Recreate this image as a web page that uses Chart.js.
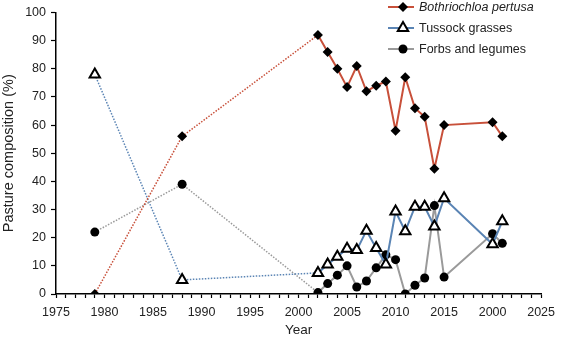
<!DOCTYPE html>
<html>
<head>
<meta charset="utf-8">
<script src="https://cdn.jsdelivr.net/npm/chart.js@4.4.1/dist/chart.umd.min.js"></script>
<style>
  body { margin: 0; background: #fff; }
  #wrap { width: 562px; height: 340px; }
</style>
</head>
<body>
<div id="wrap"><canvas id="grafico"></canvas></div>
<script>
// dados
var anos = [1979, 1988, 2002, 2003, 2004, 2005, 2006, 2007, 2008, 2009, 2010, 2011, 2012, 2013, 2014, 2015, 2020, 2021]
var pertusa = [0, 56, 92, 86, 80, 73.5, 81, 72, 74, 75.5, 58, 77, 66, 63, 44.5, 60, 61, 56]
var tussock = [78, 5, 7.5, 10.5, 13.2, 16.1, 15.6, 22.5, 16.3, 10.5, 29.3, 22.3, 31, 31, 24, 34, 17.7, 25.8]
var forbs = [22, 39, 0.5, 3.7, 6.7, 10, 2.5, 4.6, 9.3, 13.9, 12.2, 0, 3.1, 5.7, 31.4, 6, 21.4, 18]
var nomes = ['Bothriochloa pertusa', 'Tussock grasses', 'Forbs and legumes']
var rotulosAno = ['1975', '1980', '1985', '1990', '1995', '2000', '2005', '2010', '2015', '2000', '2025']

var fonte = '"Liberation Sans", Arial, Helvetica, sans-serif'

function pontos(valores) {
    return anos.map(function (x, i) { return { x: x, y: valores[i] } })
}

function trecho(cor) {
    return {
        borderDash: function (ctx) { return ctx.p1.parsed.x <= 2002 ? [1.5, 1.5] : undefined },
        borderWidth: function (ctx) { return ctx.p1.parsed.x <= 2002 ? 1.5 : 2 },
        borderColor: cor
    }
}

// legenda desenhada à mão (linha + marcador)
var legendaPlugin = {
    id: 'legendaManual',
    afterDraw: function (chart) {
        var c = chart.ctx
        var linhas = [7, 28, 49]
        chart.data.datasets.forEach(function (ds, i) {
            var y = linhas[i]
            c.save()
            c.strokeStyle = ds.borderColor
            c.lineWidth = 2
            c.beginPath()
            c.moveTo(388, y)
            c.lineTo(414, y)
            c.stroke()
            desenharMarcador(c, ds.pointStyle, 403, y)
            c.fillStyle = '#222'
            c.font = (i === 0 ? 'italic ' : '') + '12.5px ' + fonte
            c.textBaseline = 'middle'
            c.fillText(nomes[i], 419, y + 0.5)
            c.restore()
        })
    }
}

function desenharMarcador(c, estilo, x, y) {
    c.beginPath()
    if (estilo === 'rectRot') {
        var r = 5
        c.moveTo(x, y - r); c.lineTo(x + r, y); c.lineTo(x, y + r); c.lineTo(x - r, y); c.closePath()
        c.fillStyle = '#000'; c.fill()
    } else if (estilo === 'triangle') {
        var r = 6
        c.moveTo(x, y - r); c.lineTo(x + r * 0.87, y + r * 0.5); c.lineTo(x - r * 0.87, y + r * 0.5); c.closePath()
        c.fillStyle = '#fff'; c.fill()
        c.lineWidth = 2; c.strokeStyle = '#000'; c.stroke()
    } else {
        c.arc(x, y, 4.5, 0, Math.PI * 2)
        c.fillStyle = '#000'; c.fill()
    }
}

var ctx = document.getElementById('grafico')

var grafico = new Chart(ctx, {
    type: 'line',
    data: {
        datasets: [{
            label: nomes[0],
            data: pontos(pertusa),
            borderColor: '#c8503a',
            borderWidth: 2,
            pointStyle: 'rectRot',
            pointRadius: 5,
            pointBackgroundColor: '#000',
            pointBorderColor: '#000',
            pointBorderWidth: 0,
            segment: trecho('#c8503a')
        }, {
            label: nomes[1],
            data: pontos(tussock),
            borderColor: '#5a84b4',
            borderWidth: 2,
            pointStyle: 'triangle',
            pointRadius: 6,
            pointBackgroundColor: '#fff',
            pointBorderColor: '#000',
            pointBorderWidth: 2,
            segment: trecho('#5a84b4')
        }, {
            label: nomes[2],
            data: pontos(forbs),
            borderColor: '#9a9a9a',
            borderWidth: 2,
            pointStyle: 'circle',
            pointRadius: 4.5,
            pointBackgroundColor: '#000',
            pointBorderColor: '#000',
            pointBorderWidth: 0,
            segment: trecho('#9a9a9a')
        }]
    },
    options: {
        responsive: true,
        maintainAspectRatio: false,
        animation: false,
        layout: { padding: { top: 7, right: 14, left: 0, bottom: 0 } },
        plugins: {
            legend: { display: false },
            tooltip: { enabled: false }
        },
        scales: {
            x: {
                type: 'linear',
                min: 1975,
                max: 2025,
                afterFit: function (s) { s.height = 46 },
                border: { color: '#000', width: 1.5 },
                grid: { drawOnChartArea: false, drawTicks: true, tickLength: 4, color: '#000', tickWidth: 1.2 },
                ticks: {
                    stepSize: 1,
                    autoSkip: false,
                    maxRotation: 0,
                    padding: 7,
                    color: '#222',
                    font: { family: fonte, size: 12.5 },
                    callback: function (v) {
                        if (v % 5 !== 0) return ''
                        return rotulosAno[(v - 1975) / 5]
                    }
                },
                title: {
                    display: true,
                    text: 'Year',
                    color: '#222',
                    padding: { top: 0, bottom: 2 },
                    font: { family: fonte, size: 13.5 }
                }
            },
            y: {
                min: 0,
                max: 100,
                afterFit: function (s) { s.width = 56 },
                border: { color: '#000', width: 1.5 },
                grid: { drawOnChartArea: false, drawTicks: true, tickLength: 5, color: '#000', tickWidth: 1.2 },
                ticks: {
                    stepSize: 10,
                    padding: 5,
                    color: '#222',
                    font: { family: fonte, size: 12.5 }
                },
                title: {
                    display: true,
                    text: 'Pasture composition (%)',
                    color: '#222',
                    padding: { top: 0, bottom: 0 },
                    font: { family: fonte, size: 14.5 }
                }
            }
        }
    },
    plugins: [legendaPlugin]
});
</script>
</body>
</html>
